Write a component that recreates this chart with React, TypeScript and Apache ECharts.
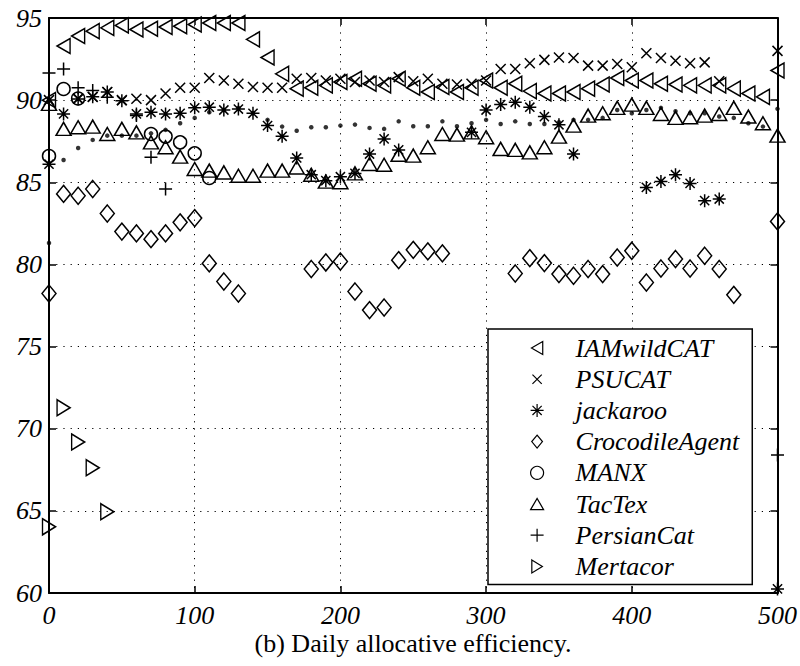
import React, { useEffect, useRef } from "react";
import * as echarts from "echarts";

const days = [0, 10, 20, 30, 40, 50, 60, 70, 80, 90, 100, 110, 120, 130, 140, 150, 160, 170, 180, 190, 200,
  210, 220, 230, 240, 250, 260, 270, 280, 290, 300, 310, 320, 330, 340, 350, 360, 370, 380, 390, 400,
  410, 420, 430, 440, 450, 460, 470, 480, 490, 500];

const xTicks = [0, 100, 200, 300, 400, 500];
const yTicks = [60, 65, 70, 75, 80, 85, 90, 95];

const _ = null;

const IAMwildCAT = [90.0, 93.3, 93.9, 94.2, 94.4, 94.55, 94.3, 94.35, 94.45, 94.5, 94.6, 94.7, 94.7, 94.7, 93.7,
  92.6, 91.6, 90.7, 90.75, 90.9, 91.1, 91.3, 91.0, 90.9, 91.3, 90.75, 90.5, 90.8, 90.5, 90.75, 91.2,
  90.75, 91.0, 90.55, 90.4, 90.4, 90.5, 90.7, 90.95, 91.35, 91.2, 91.2, 91.0, 90.95, 90.9, 90.9, 90.9,
  90.7, 90.4, 90.2, 91.8];

const PSUCAT = [90.0, _, 90.1, 90.2, 90.5, 90.0, 90.08, 90.0, 90.4, 90.75, 90.75, 91.35, 91.2, 91.0, 90.8,
  90.75, 90.75, 91.3, 91.35, 91.2, 91.3, 91.1, 91.2, 91.1, 91.4, 91.15, 91.3, 91.0, 90.95, 91.0, 91.2,
  91.9, 91.9, 92.25, 92.45, 92.6, 92.57, 92.1, 92.1, 92.2, 92.0, 92.85, 92.57, 92.4, 92.25, 92.3, 91.15,
  _, _, _, 93.0];

const jackaroo = [86.1, 89.16, 90.07, 90.2, 90.5, 89.97, 89.16, 89.26, 89.16, 89.2, 89.53, 89.57, 89.4, 89.46, 89.2,
  88.45, 87.8, 86.48, 85.46, 85.1, 85.34, 85.54, 86.72, 87.64, 86.97, _, _, _, _, 88.04, 89.4,
  89.73, 89.87, 89.57, 89.0, 88.5, 86.72, _, _, _, _, 84.69, 85.05, 85.46, 84.93, 83.88, 83.98,
  _, _, _, 60.25];

const CrocodileAgent = [78.23, 84.29, 84.18, 84.59, 83.1, 82.0, 81.89, 81.54, 81.89, 82.56, 82.82, 80.06, 78.96, 78.23, _,
  _, _, _, 79.72, 80.12, 80.18, 78.35, 77.22, 77.38, 80.26, 80.89, 80.79, 80.67, _, _, _,
  _, 79.45, 80.38, 80.08, 79.41, 79.31, 79.72, 79.41, 80.42, 80.83, 78.9, 79.75, 80.33, 79.75, 80.53, 79.72,
  78.15, _, _, 82.62];

const MANX = [86.6, 90.68, 90.1, _, _, _, _, 87.94, 87.78, 87.43, 86.76, 85.26, _, _, _,
  _, _, _, _, _, _, _, _, _, _, _, _, _, _, _, _,
  _, _, _, _, _, _, _, _, _, _, _, _, _, _, _, _,
  _, _, _, _];

const TacTex = [89.77, 88.25, 88.35, 88.39, 87.94, 88.25, 88.04, 87.43, 87.13, 86.56, 85.81, 85.71, 85.6, 85.4, 85.4,
  85.71, 85.71, 85.9, 85.46, 85.04, 85.0, 85.54, 86.11, 86.07, 86.68, 86.62, 87.13, 87.94, 87.9, 88.04, 87.74,
  87.03, 86.97, 86.82, 87.13, 87.78, 88.45, 89.06, 89.2, 89.53, 89.73, 89.53, 89.16, 88.92, 88.96, 89.06, 89.16,
  89.53, 89.0, 88.59, 87.84];

const PersianCat = [91.65, 91.9, 90.75, 90.58, 90.17, _, 89.06, 86.52, 84.59, _, _, _, _, _, _,
  _, _, _, _, _, _, _, _, _, _, _, _, _, _, _, _,
  _, _, _, _, _, _, _, _, _, _, _, _, _, _, _, _,
  _, _, _, 68.4];

const Mertacor = [64.03, 71.28, 69.19, 67.63, 64.95, _, _, _, _, _, _, _, _, _, _,
  _, _, _, _, _, _, _, _, _, _, _, _, _, _, _, _,
  _, _, _, _, _, _, _, _, _, _, _, _, _, _, _, _,
  _, _, _, _];

const Dotted = [81.3, 86.36, 87.09, 87.58, 87.84, 87.84, 87.84, 87.98, 88.19, 88.59, 88.92, 89.26, 89.4, 89.53, 89.2,
  88.8, 88.39, 88.14, 88.35, 88.35, 88.45, 88.51, 88.31, 88.25, 88.71, 88.41, 88.41, 88.71, 88.41, 88.59, 88.8,
  88.55, 88.71, 88.55, 88.55, 88.65, 88.8, 88.8, 88.92, 89.4, 89.2, 89.4, 89.53, 89.32, 89.2, 89.2, 89.0,
  88.92, 88.59, 88.39, 89.47];

const SYM_LEFT = "path://M0,7.5 L13,0 L13,15 Z";
const SYM_RIGHT = "path://M0,0 L13,8 L0,16 Z";
const SYM_UP = "path://M0,13 L7.5,0 L15,13 Z";
const SYM_DIAMOND = "path://M7,0 L14,8.5 L7,17 L0,8.5 Z";
const SYM_X = "path://M0,0 L10,10 M10,0 L0,10";
const SYM_X_LEGEND = "path://M-2,-2 M12,12 M0,0 L10,10 M10,0 L0,10";
const SYM_PLUS = "path://M6.5,0 L6.5,13 M0,6.5 L13,6.5";
const SYM_STAR = "path://M6.5,0 L6.5,13 M0,6.5 L13,6.5 M1.9,1.9 L11.1,11.1 M11.1,1.9 L1.9,11.1";

const FONT = "Liberation Serif";

function pairs(vals: (number | null)[]) {
  const out: number[][] = [];
  vals.forEach((v, i) => {
    if (v !== null && v !== undefined) out.push([days[i], v]);
  });
  return out;
}

const seriesDefs = [
  { name: "IAMwildCAT", vals: IAMwildCAT, symbol: SYM_LEFT, icon: SYM_LEFT, size: [13, 15] },
  { name: "PSUCAT", vals: PSUCAT, symbol: SYM_X, icon: SYM_X_LEGEND, size: [10, 10] },
  { name: "jackaroo", vals: jackaroo, symbol: SYM_STAR, icon: SYM_STAR, size: [13, 13] },
  { name: "CrocodileAgent", vals: CrocodileAgent, symbol: SYM_DIAMOND, icon: SYM_DIAMOND, size: [14, 17] },
  { name: "MANX", vals: MANX, symbol: "circle", icon: "circle", size: [13, 13] },
  { name: "TacTex", vals: TacTex, symbol: SYM_UP, icon: SYM_UP, size: [15, 13] },
  { name: "PersianCat", vals: PersianCat, symbol: SYM_PLUS, icon: SYM_PLUS, size: [13, 13] },
  { name: "Mertacor", vals: Mertacor, symbol: SYM_RIGHT, icon: SYM_RIGHT, size: [13, 16] },
];

export default function App() {
  const ref = useRef<HTMLDivElement>(null);
  useEffect(() => {
    if (!ref.current) return;
    const chart = echarts.init(ref.current, undefined, { renderer: "svg" });
    const axisLine = { show: true, onZero: false, lineStyle: { color: "#000", width: 2 } };
    const axisTick = { show: true, inside: true, length: 7, lineStyle: { color: "#000", width: 1.5 } };
    const split = { show: true, lineStyle: { color: "#000", width: 1, type: [1.2, 6] as any } };
    const labelStyle = { fontFamily: FONT, fontStyle: "italic", fontSize: 26, color: "#000" };

    const series: any[] = seriesDefs.map((s) => ({
      type: "scatter",
      name: s.name,
      data: pairs(s.vals),
      symbol: s.symbol,
      symbolSize: s.size,
      itemStyle: { color: "rgba(0,0,0,0)", borderColor: "#000", borderWidth: 1.5, opacity: 1 },
      emphasis: { disabled: true },
      z: 3,
    }));
    series.push({
      type: "scatter",
      name: "dots",
      data: pairs(Dotted),
      symbol: "circle",
      symbolSize: 4.5,
      itemStyle: { color: "#000", borderWidth: 0 },
      emphasis: { disabled: true },
      z: 2,
    });

    chart.setOption({
      animation: false,
      backgroundColor: "#fff",
      grid: { left: 49, right: 22, top: 18, bottom: 73, containLabel: false },
      xAxis: [
        {
          type: "value", min: 0, max: 500, interval: 100, position: "bottom",
          axisLine, axisTick, splitLine: split,
          axisLabel: { ...labelStyle, margin: 9, formatter: (v: number) => (xTicks.includes(v) ? String(v) : "") },
        },
        {
          type: "value", min: 0, max: 500, interval: 100, position: "top",
          axisLine, axisTick, splitLine: { show: false }, axisLabel: { show: false },
        },
      ],
      yAxis: [
        {
          type: "value", min: 60, max: 95, interval: 5, position: "left",
          axisLine, axisTick, splitLine: split,
          axisLabel: { ...labelStyle, margin: 7, formatter: (v: number) => (yTicks.includes(v) ? String(v) : "") },
        },
        {
          type: "value", min: 60, max: 95, interval: 5, position: "right",
          axisLine, axisTick, splitLine: { show: false }, axisLabel: { show: false },
        },
      ],
      legend: {
        orient: "vertical",
        left: 488,
        top: 329,
        padding: [6, 13, 5, 42],
        itemGap: 5.2,
        itemWidth: 13,
        itemHeight: 13,
        borderColor: "#000",
        borderWidth: 1.5,
        backgroundColor: "#fff",
        selectedMode: false,
        textStyle: { fontFamily: FONT, fontStyle: "italic", fontSize: 26, lineHeight: 26, color: "#000", padding: [0, 0, 0, 27] },
        data: seriesDefs.map((s) => ({
          name: s.name,
          icon: s.icon,
          itemStyle: { color: "rgba(0,0,0,0)", borderColor: "#000", borderWidth: 1.2 },
        })),
      },
      graphic: [
        {
          type: "text",
          x: 413,
          y: 643,
          style: {
            text: "(b) Daily allocative efficiency.",
            fill: "#000",
            fontSize: 26,
            fontFamily: FONT,
            align: "center",
            verticalAlign: "middle",
          },
        },
      ],
      series,
    });
    return () => chart.dispose();
  }, []);
  return (
    <div
      ref={ref}
      style={{ position: "fixed", left: 0, top: 0, width: 800, height: 666, background: "#fff" }}
    />
  );
}
